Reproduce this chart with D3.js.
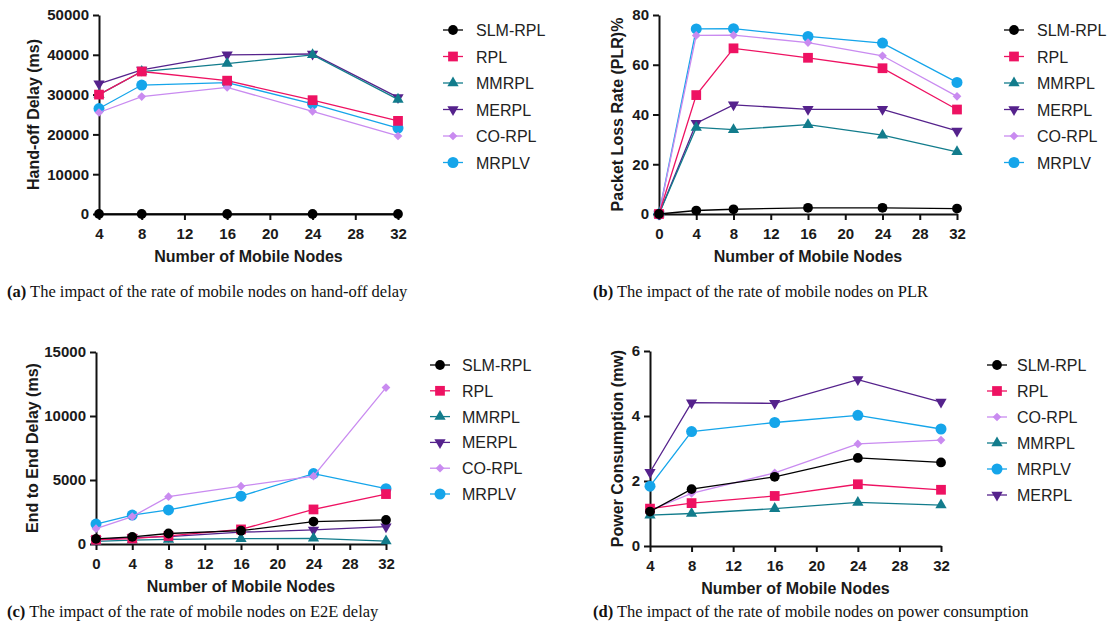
<!DOCTYPE html>
<html>
<head>
<meta charset="utf-8">
<script src="https://cdn.jsdelivr.net/npm/d3@7"></script>
<style>
  body { margin: 0; background: #fff; }
  svg { display: block; }
  .tick text { font-family: "Liberation Sans", Arial, sans-serif; font-weight: bold; font-size: 15px; fill: #1a1a1a; }
  .axis path, .axis line { stroke: #111; stroke-width: 2; }
  .title { font-family: "Liberation Sans", Arial, sans-serif; font-weight: bold; font-size: 16px; fill: #1a1a1a; }
  .legend text { font-family: "Liberation Sans", Arial, sans-serif; font-size: 16px; fill: #222; }
  .caption { font-family: "Liberation Serif", "Times New Roman", serif; font-size: 16.5px; fill: #111; }
</style>
</head>
<body>
<div id="chart"></div>
<script>
// series names and colours
var seriesNames = ["SLM-RPL", "RPL", "MMRPL", "MERPL", "CO-RPL", "MRPLV"];
var legendOrderD = ["SLM-RPL", "RPL", "CO-RPL", "MMRPL", "MRPLV", "MERPL"];

// x values (number of mobile nodes)
var nodesA = [4, 8, 16, 24, 32];
var nodesB = [0, 4, 8, 16, 24, 32];
var nodesC = [0, 4, 8, 16, 24, 32];
var nodesD = [4, 8, 16, 24, 32];

// (a) hand-off delay (ms), rows in seriesNames order
var handoffDelay = [
  [0, 0, 0, 0, 0],
  [30000, 35800, 33500, 28600, 23400],
  [30000, 35800, 37800, 40000, 28800],
  [32700, 36200, 40000, 40200, 29300],
  [25500, 29500, 31800, 25800, 19600],
  [26500, 32400, 33000, 27700, 21600]
];

// (b) packet loss rate %
var packetLoss = [
  [0, 1.4, 1.9, 2.5, 2.5, 2.2],
  [0, 47.8, 66.6, 62.8, 58.6, 42],
  [0, 34.8, 33.9, 35.9, 31.7, 25],
  [0, 36.5, 43.9, 42.1, 42.1, 33.4],
  [0, 71.8, 71.9, 68.9, 63.6, 47.3],
  [0, 74.4, 74.5, 71.4, 68.7, 52.9]
];

// (c) end to end delay (ms)
var e2eDelay = [
  [400, 560, 820, 1040, 1750, 1880],
  [330, 420, 630, 1140, 2700, 3900],
  [200, 300, 360, 420, 440, 230],
  [360, 500, 580, 920, 1100, 1350],
  [1200, 2140, 3700, 4520, 5300, 12220],
  [1560, 2260, 2660, 3740, 5500, 4320]
];

// (d) power consumption (mw)
var powerUse = [
  [1.06, 1.75, 2.13, 2.71, 2.57],
  [1.15, 1.32, 1.54, 1.9, 1.73],
  [0.95, 1.0, 1.15, 1.34, 1.26],
  [2.27, 4.41, 4.39, 5.12, 4.43],
  [1.1, 1.62, 2.25, 3.14, 3.26],
  [1.84, 3.52, 3.8, 4.02, 3.6]
];

var colors = {
  "SLM-RPL": "#000000",
  "RPL": "#ee1262",
  "MMRPL": "#127c8c",
  "MERPL": "#55228c",
  "CO-RPL": "#c98bf0",
  "MRPLV": "#15a5ea"
};

var shapes = {
  "SLM-RPL": { type: d3.symbolCircle, size: 75, rot: 0 },
  "RPL": { type: d3.symbolSquare, size: 95, rot: 0 },
  "MMRPL": { type: d3.symbolTriangle, size: 55, rot: 0 },
  "MERPL": { type: d3.symbolTriangle, size: 55, rot: 180 },
  "CO-RPL": { type: d3.symbolSquare, size: 38, rot: 45 },
  "MRPLV": { type: d3.symbolCircle, size: 95, rot: 0 }
};

var svg = d3.select("#chart").append("svg")
  .attr("width", 1108)
  .attr("height", 633);

function symbolPath(name) {
  return d3.symbol().type(shapes[name].type).size(shapes[name].size)();
}

function drawPanel(p) {
  var x = d3.scaleLinear().domain(p.xDomain).range([p.left, p.right]);
  var y = d3.scaleLinear().domain(p.yDomain).range([p.bottom, p.top]);

  // axes
  svg.append("g")
    .attr("class", "axis")
    .attr("transform", "translate(0," + p.bottom + ")")
    .call(d3.axisBottom(x).tickValues(p.xTicks).tickFormat(d3.format("d"))
      .tickSize(6).tickSizeOuter(0).tickPadding(8));

  svg.append("g")
    .attr("class", "axis")
    .attr("transform", "translate(" + p.left + ",0)")
    .call(d3.axisLeft(y).tickValues(p.yTicks).tickFormat(d3.format("d"))
      .tickSize(6).tickSizeOuter(0).tickPadding(4));

  // axis titles
  svg.append("text")
    .attr("class", "title")
    .attr("x", (p.left + p.right) / 2)
    .attr("y", p.bottom + 48)
    .attr("text-anchor", "middle")
    .text("Number of Mobile Nodes");

  svg.append("text")
    .attr("class", "title")
    .attr("transform", "translate(" + p.yTitleX + "," + (p.top + p.bottom) / 2 + ") rotate(-90)")
    .attr("text-anchor", "middle")
    .attr("dy", "0.35em")
    .text(p.yTitle);

  // lines and markers, drawn last-to-first so SLM-RPL / RPL sit on top
  var line = d3.line()
    .x(function(d) { return x(d[0]); })
    .y(function(d) { return y(d[1]); });

  seriesNames.slice().reverse().forEach(function(name) {
    var i = seriesNames.indexOf(name);
    var pts = p.xs.map(function(v, j) { return [v, p.data[i][j]]; });
    var g = svg.append("g");
    g.append("path")
      .datum(pts)
      .attr("fill", "none")
      .attr("stroke", colors[name])
      .attr("stroke-width", 1.3)
      .attr("d", line);
    g.selectAll("path.pt")
      .data(pts)
      .enter().append("path")
      .attr("class", "pt")
      .attr("d", symbolPath(name))
      .attr("fill", colors[name])
      .attr("transform", function(d) {
        return "translate(" + x(d[0]) + "," + y(d[1]) + ") rotate(" + shapes[name].rot + ")";
      });
  });

  // legend
  var lg = svg.append("g").attr("class", "legend");
  p.legendOrder.forEach(function(name, i) {
    var cy = p.legend.y + i * p.legend.dy;
    lg.append("line")
      .attr("x1", p.legend.x - 10).attr("x2", p.legend.x + 10)
      .attr("y1", cy).attr("y2", cy)
      .attr("stroke", colors[name]).attr("stroke-width", 1.3);
    lg.append("path")
      .attr("d", symbolPath(name))
      .attr("fill", colors[name])
      .attr("transform", "translate(" + p.legend.x + "," + cy + ") rotate(" + shapes[name].rot + ")");
    lg.append("text")
      .attr("x", p.legend.tx)
      .attr("y", cy + 6)
      .text(name);
  });

  // caption
  var cap = svg.append("text")
    .attr("class", "caption")
    .attr("x", p.caption.x)
    .attr("y", p.caption.y);
  cap.append("tspan").attr("font-weight", "bold").text(p.caption.label);
  cap.append("tspan").text(" " + p.caption.text);
}

drawPanel({
  left: 99, right: 398, top: 15, bottom: 214,
  xDomain: [4, 32], xTicks: [4, 8, 12, 16, 20, 24, 28, 32], xs: nodesA,
  yDomain: [0, 50000], yTicks: [0, 10000, 20000, 30000, 40000, 50000],
  yTitle: "Hand-off Delay (ms)", yTitleX: 33,
  data: handoffDelay, legendOrder: seriesNames,
  legend: { x: 453, tx: 476, y: 30, dy: 26.5 },
  caption: { x: 7, y: 297, label: "(a)", text: "The impact of the rate of mobile nodes on hand-off delay" }
});

drawPanel({
  left: 659, right: 957, top: 15, bottom: 214,
  xDomain: [0, 32], xTicks: [0, 4, 8, 12, 16, 20, 24, 28, 32], xs: nodesB,
  yDomain: [0, 80], yTicks: [0, 20, 40, 60, 80],
  yTitle: "Packet Loss Rate (PLR)%", yTitleX: 617,
  data: packetLoss, legendOrder: seriesNames,
  legend: { x: 1014, tx: 1037, y: 30, dy: 26.5 },
  caption: { x: 593, y: 297, label: "(b)", text: "The impact of the rate of mobile nodes on PLR" }
});

drawPanel({
  left: 96, right: 386, top: 352, bottom: 544,
  xDomain: [0, 32], xTicks: [0, 4, 8, 12, 16, 20, 24, 28, 32], xs: nodesC,
  yDomain: [0, 15000], yTicks: [0, 5000, 10000, 15000],
  yTitle: "End to End Delay (ms)", yTitleX: 32,
  data: e2eDelay, legendOrder: seriesNames,
  legend: { x: 440, tx: 462, y: 365, dy: 25.8 },
  caption: { x: 7, y: 617, label: "(c)", text: "The impact of the rate of mobile nodes on E2E delay" }
});

drawPanel({
  left: 650, right: 941, top: 351, bottom: 546,
  xDomain: [4, 32], xTicks: [4, 8, 12, 16, 20, 24, 28, 32], xs: nodesD,
  yDomain: [0, 6], yTicks: [0, 2, 4, 6],
  yTitle: "Power Consumption (mw)", yTitleX: 617,
  data: powerUse, legendOrder: legendOrderD,
  legend: { x: 997, tx: 1017, y: 365, dy: 26 },
  caption: { x: 593, y: 617, label: "(d)", text: "The impact of the rate of mobile nodes on power consumption" }
});
</script>
</body>
</html>
